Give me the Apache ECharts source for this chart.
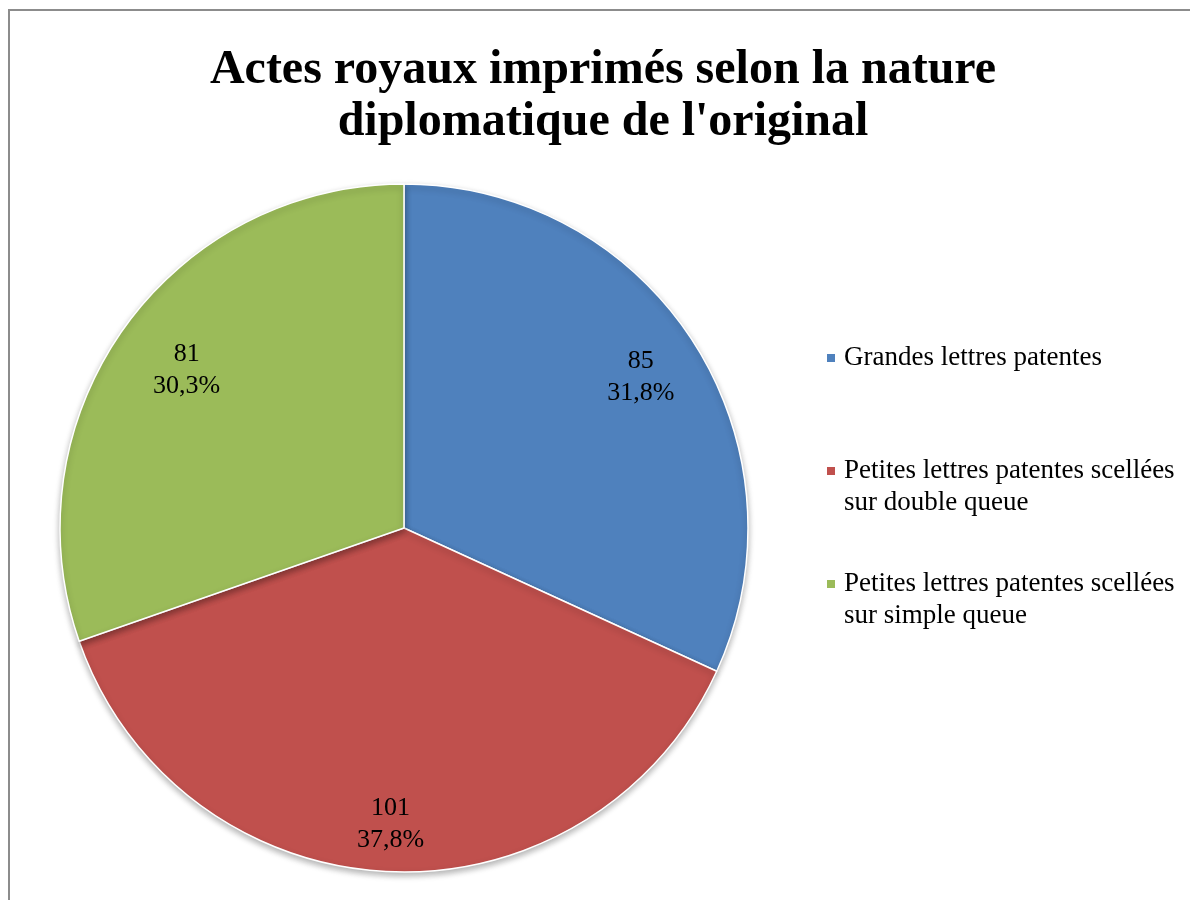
<!DOCTYPE html>
<html>
<head>
<meta charset="utf-8">
<script src="https://cdn.jsdelivr.net/npm/echarts@6/dist/echarts.min.js"></script>
<style>
  html, body { margin: 0; padding: 0; background: #fff; }
  #main { position: absolute; left: 8px; top: 9px; width: 1182px; height: 891px;
          border-left: 2px solid #8c8c8c; border-top: 2px solid #8c8c8c; }
</style>
</head>
<body>
<div id="main"></div>
<script>
const categories = [
  'Grandes lettres patentes',
  'Petites lettres patentes scellées sur double queue',
  'Petites lettres patentes scellées sur simple queue'
];
const legendLabels = [
  'Grandes lettres patentes',
  '\nPetites lettres patentes scellées\nsur double queue',
  '\nPetites lettres patentes scellées\nsur simple queue'
];
const values = [85, 101, 81];
const colors = ['#4F81BD', '#C0504D', '#9BBB59'];

const total = values.reduce((a, b) => a + b, 0);
const font = '"Liberation Serif", "Times New Roman", serif';

// the div is shifted by (10, 11)
const ox = 10, oy = 11;
const legendTops = [342, 423, 536];
const labelOffsets = [[-3, 3], [0, 11], [15, 7]];

const dataChart = values.map((value, index) => {
  return { value: value, name: categories[index], itemStyle: { color: colors[index] } };
});

const legends = categories.map((name, i) => {
  return {
    data: [name],
    orient: 'vertical',
    left: 825 - ox,
    top: legendTops[i] - oy,
    padding: 0,
    itemWidth: 10,
    itemHeight: 10,
    icon: 'rect',
    formatter: () => legendLabels[i],
    textStyle: {
      fontFamily: font,
      fontSize: 27,
      lineHeight: 32,
      color: '#000',
      padding: [0, 0, 0, 3]
    }
  };
});

const myChart = echarts.init(document.getElementById('main'));

const option = {
  animation: false,
  title: {
    text: "Actes royaux imprimés selon la nature\ndiplomatique de l'original",
    left: 598 - ox,
    top: 40 - oy,
    textAlign: 'center',
    textStyle: {
      fontFamily: font,
      fontSize: 48,
      fontWeight: 'bold',
      lineHeight: 52,
      color: '#000'
    }
  },
  legend: legends,
  series: [
    {
      name: 'Actes',
      type: 'pie',
      center: [404 - ox, 528 - oy],
      radius: [0, 344],
      startAngle: 90,
      clockwise: true,
      data: dataChart,
      label: { show: false },
      labelLine: { show: false },
      itemStyle: {
        borderColor: '#fff',
        borderWidth: 1.5,
        shadowBlur: 6,
        shadowOffsetY: 3,
        shadowColor: 'rgba(0,0,0,0.3)'
      },
      emphasis: { disabled: true }
    },
    {
      // transparent ring used only to place the data labels
      name: 'labels',
      type: 'pie',
      center: [404 - ox, 528 - oy],
      radius: [220, 344],
      startAngle: 90,
      clockwise: true,
      silent: true,
      legendHoverLink: false,
      data: values.map((v, i) => ({
        value: v,
        name: categories[i] + ' ',
        label: { offset: labelOffsets[i] }
      })),
      itemStyle: { color: 'rgba(0,0,0,0)' },
      label: {
        show: true,
        position: 'inside',
        fontFamily: font,
        fontSize: 26,
        lineHeight: 32,
        color: '#000',
        formatter: p => p.value + '\n' + (p.value / total * 100).toFixed(1).replace('.', ',') + '%'
      },
      labelLine: { show: false },
      emphasis: { disabled: true }
    }
  ]
};

myChart.setOption(option);
</script>
</body>
</html>
